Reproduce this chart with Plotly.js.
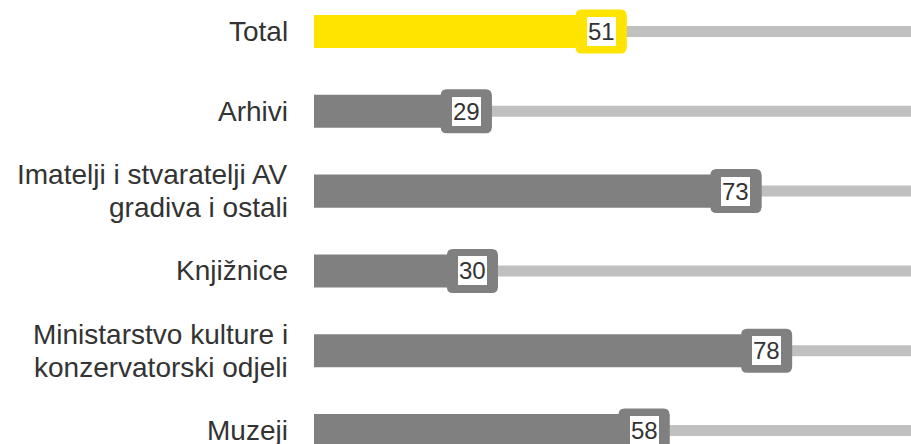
<!DOCTYPE html>
<html>
<head>
<meta charset="utf-8">
<script src="https://cdn.plot.ly/plotly-3.0.1.min.js"></script>
<style>html,body{margin:0;padding:0;background:#fff;}#chart{width:911px;height:444px;}</style>
</head>
<body>
<div id="chart"></div>
<script>
var categories = ["Total", "Arhivi", "Imatelji i stvaratelji AV<br>gradiva i ostali", "Knjižnice", "Ministarstvo kulture i<br>konzervatorski odjeli", "Muzeji"];
var values = [51, 29, 73, 30, 78, 58];
var trackMax = 100;
var highlight = "Total";

var yellow = "#ffe400", grey = "#808080", track = "#c0c0c0";
var fontFam = "Liberation Sans, Arial, sans-serif";
var pos = categories.map(function(_, i){ return i; });
var colors = categories.map(function(c){ return c === highlight ? yellow : grey; });

var traces = [
  {type: "bar", orientation: "h", y: pos, x: categories.map(function(){ return trackMax; }),
   width: 0.138, marker: {color: track}, hoverinfo: "skip"},
  {type: "bar", orientation: "h", y: pos, x: values,
   width: 0.414, marker: {color: colors}, hoverinfo: "skip"}
];

var boxPath = "M -45,-22 L -6,-22 Q 0,-22 0,-16 L 0,16 Q 0,22 -6,22 L -45,22 Q -51,22 -51,16 L -51,-16 Q -51,-22 -45,-22 Z";
var shapes = values.map(function(v, i){
  return {type: "path", xref: "x", yref: "y", xsizemode: "pixel", ysizemode: "pixel",
          xanchor: v, yanchor: pos[i], path: boxPath,
          fillcolor: colors[i], line: {width: 0}, layer: "above"};
});
var annotations = values.map(function(v, i){
  return {x: v, y: pos[i], xref: "x", yref: "y", text: String(v), showarrow: false,
          xanchor: "center", yanchor: "middle", xshift: -25.5,
          bgcolor: "#ffffff", borderpad: 1, borderwidth: 0,
          font: {family: fontFam, size: 24, color: "#333"}};
});
// category labels, one annotation per line for tighter line spacing
categories.forEach(function(c, i){
  var lines = c.split("<br>");
  var n = lines.length;
  lines.forEach(function(line, k){
    annotations.push({x: 0, y: pos[i], xref: "paper", yref: "y", text: line, showarrow: false,
      xanchor: "right", yanchor: "middle", xshift: -24, yshift: ((n - 1) / 2 - k) * 33,
      font: {family: fontFam, size: 28, color: "#333"}});
  });
});

var layout = {
  width: 911, height: 444,
  margin: {l: 314, r: 0, t: 0, b: 0},
  paper_bgcolor: "#fff", plot_bgcolor: "#fff",
  showlegend: false, barmode: "overlay",
  xaxis: {range: [0, 97.4], visible: false, fixedrange: true},
  yaxis: {range: [5.169, -0.395], showticklabels: false,
          showgrid: false, zeroline: false, showline: false, ticks: ""},
  shapes: shapes, annotations: annotations
};
Plotly.newPlot("chart", traces, layout, {displayModeBar: false, staticPlot: true});
</script>
</body>
</html>
